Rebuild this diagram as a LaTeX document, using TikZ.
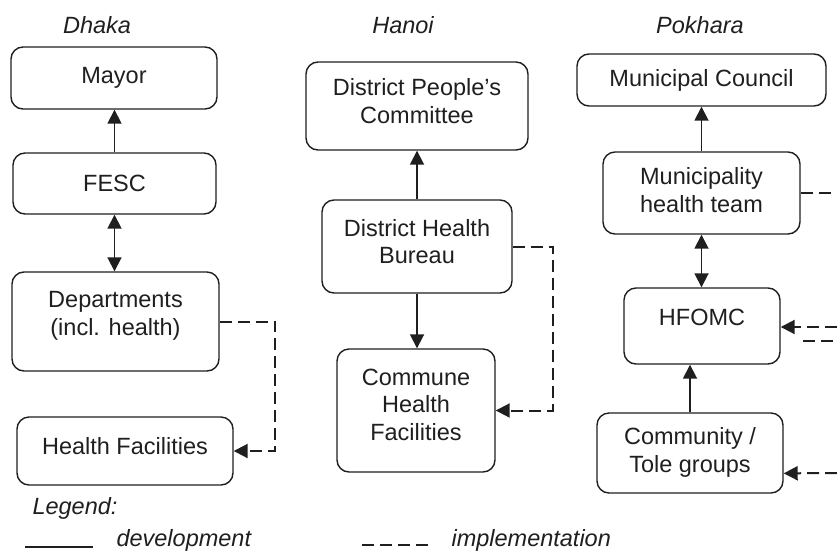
\documentclass[tikz,border=0pt]{standalone}
\usepackage{fontspec}
\setmainfont{Liberation Sans}
\usetikzlibrary{arrows.meta,calc}
\begin{document}
\begin{tikzpicture}[x=1pt,y=-1pt,
  box/.style={draw=black!88,line width=1.4pt,rounded corners=12pt,align=center,
    font=\fontsize{23.5}{27.5}\selectfont,text=black!88,inner sep=0pt},
  ttl/.style={font=\fontsize{23.5}{27}\selectfont\itshape,text=black!88},
  dev/.style={line width=1.8pt,draw=black!88,-{Triangle[length=14pt,width=14pt]}},
  devb/.style={line width=1.8pt,draw=black!88,{Triangle[length=14pt,width=14pt]}-{Triangle[length=14pt,width=14pt]}},
  impl/.style={line width=2pt,draw=black!88,dash pattern=on 12pt off 6pt},
  impla/.style={impl,-{Triangle[length=14pt,width=14pt]}}]
\useasboundingbox (0,0) rectangle (837,552);
% titles
\node[ttl] (tdhaka) at (97,25) {Dhaka};
\node[ttl] (thanoi) at (403,25) {Hanoi};
\node[ttl] (tpokhara) at (700,25) {Pokhara};
% Dhaka
\node[box,minimum width=206pt,minimum height=62pt] (mayor) at (114,78) {Mayor};
\node[box,minimum width=203pt,minimum height=61pt] (fesc) at (114.5,183.5) {FESC};
\node[box,minimum width=207pt,minimum height=99pt,text depth=16pt] (dept) at (115.5,321.5) {Departments\\(incl. health)};
\node[box,minimum width=216pt,minimum height=68pt,text depth=10pt] (hf) at (125,451) {Health Facilities};
% Hanoi
\node[box,minimum width=222pt,minimum height=88pt,text depth=10pt] (dpc) at (417,106) {District People’s\\Committee};
\node[box,minimum width=190pt,minimum height=93pt,text depth=10pt] (dhb) at (417,246.5) {District Health\\Bureau};
\node[box,minimum width=158pt,minimum height=123pt,text depth=12pt] (chf) at (416,410.5) {Commune\\Health\\Facilities};
% Pokhara
\node[box,minimum width=249pt,minimum height=52pt] (mc) at (701.5,80) {Municipal Council};
\node[box,minimum width=197pt,minimum height=82pt,text depth=6pt] (mht) at (701.5,193) {Municipality\\health team};
\node[box,minimum width=156pt,minimum height=76pt,text depth=18pt] (hfomc) at (702,326) {HFOMC};
\node[box,minimum width=186pt,minimum height=80pt,text depth=6pt] (comm) at (690,453) {Community /\\Tole groups};
% solid connectors
\draw[dev] (fesc.north) -- (fesc.north |- mayor.south);
\draw[devb] (dept.north -| fesc.south) -- (fesc.south);
\draw[dev] (dhb.north) -- (dhb.north |- dpc.south);
\draw[dev] (dhb.south) -- (dhb.south |- chf.north);
\draw[dev] (mht.north) -- (mht.north |- mc.south);
\draw[devb] (mht.south) -- (mht.south |- hfomc.north);
\draw[dev] (comm.north) -- (comm.north |- hfomc.south);
% dashed connectors
\draw[impla] (dept.east) -- (275,321.5) |- (hf.east);
\draw[impla] (dhb.east) -- (553,246.5) |- (chf.east);
\coordinate (e1) at (837,193);
\draw[impl] (mht.east) -- (e1);
\coordinate (e2) at (837,327);
\draw[impla] (e2) -- (hfomc.east |- e2);
\coordinate (e3a) at (803,341);
\coordinate (e3b) at (837,341);
\draw[impl] (e3a) -- (e3b);
\coordinate (cin) at ($(comm.north east)!0.75!(comm.south east)$);
\coordinate (e4) at (837,473);
\draw[impla] (e4) -- (cin);
% legend
\node[ttl,anchor=west] (leg) at (29,508) {Legend:};
\coordinate (l1a) at (25,547);
\coordinate (l1b) at (93,547);
\draw[line width=2pt,draw=black!88] (l1a) -- (l1b);
\node[ttl,anchor=west] (ldev) at (113,540) {development};
\coordinate (l2a) at (362,545);
\coordinate (l2b) at (428,545);
\draw[line width=1.6pt,draw=black!88,dash pattern=on 12pt off 6pt] (l2a) -- (l2b);
\node[ttl,anchor=west] (limp) at (448,540) {implementation};
\end{tikzpicture}
\end{document}
